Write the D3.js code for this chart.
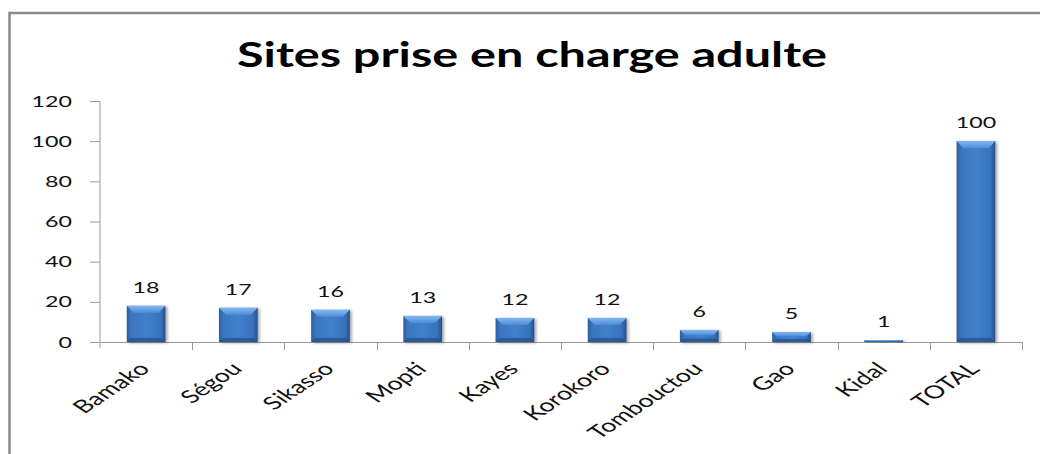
<!DOCTYPE html>
<html>
<head>
<meta charset="utf-8">
<script src="https://cdn.jsdelivr.net/npm/d3@7"></script>
<style>
  html, body { margin: 0; padding: 0; background: #fff; }
  svg { display: block; }
</style>
</head>
<body>
<svg id="chart" width="1040" height="454"></svg>
<script>
// Chart data
const title = "Sites prise en charge adulte";
const categories = ["Bamako", "Ségou", "Sikasso", "Mopti", "Kayes", "Korokoro", "Tombouctou", "Gao", "Kidal", "TOTAL"];
const values = [18, 17, 16, 13, 12, 12, 6, 5, 1, 100];
const yTicks = [0, 20, 40, 60, 80, 100, 120];

const svg = d3.select("#chart");
const W = 1040, H = 454;
const plot = { left: 100, right: 1022, top: 101, bottom: 342 };
const stretch = 1.5; // text is drawn wide, as in the exported chart

const x = d3.scaleBand()
  .domain(categories)
  .range([plot.left, plot.right])
  .paddingInner(0.58)
  .paddingOuter(0.29);

const y = d3.scaleLinear()
  .domain([0, 120])
  .range([plot.bottom, plot.top]);

// Gradients for the bevelled bars
const defs = svg.append("defs");
const body = defs.append("linearGradient").attr("id", "barBody")
  .attr("x1", "0").attr("x2", "1").attr("y1", "0").attr("y2", "0");
[["0%", "#2c5e9e"], ["12%", "#3a76c0"], ["50%", "#4280cb"], ["88%", "#3872bb"], ["100%", "#234f88"]]
  .forEach(([o, c]) => body.append("stop").attr("offset", o).attr("stop-color", c));
const topBevel = defs.append("linearGradient").attr("id", "barTop")
  .attr("x1", "0").attr("x2", "0").attr("y1", "0").attr("y2", "1");
[["0%", "#82b7f0"], ["100%", "#4f8cd8"]]
  .forEach(([o, c]) => topBevel.append("stop").attr("offset", o).attr("stop-color", c));
const shadow = defs.append("filter").attr("id", "barShadow")
  .attr("x", "-20%").attr("y", "-20%").attr("width", "150%").attr("height", "150%");
shadow.append("feGaussianBlur").attr("in", "SourceAlpha").attr("stdDeviation", 1.6).attr("result", "b");
shadow.append("feOffset").attr("in", "b").attr("dx", 2).attr("dy", 1).attr("result", "o");
shadow.append("feComponentTransfer").attr("in", "o").attr("result", "s")
  .append("feFuncA").attr("type", "linear").attr("slope", 0.35);
const merge = shadow.append("feMerge");
merge.append("feMergeNode").attr("in", "s");
merge.append("feMergeNode").attr("in", "SourceGraphic");

// Outer frame (top and left edges are visible)
svg.append("path")
  .attr("d", `M9.5,${H} V13 H${W}`)
  .attr("fill", "none")
  .attr("stroke", "#8a8a8a")
  .attr("stroke-width", 2.5);

// Title
svg.append("text")
  .attr("x", 237).attr("y", 67)
  .attr("textLength", 590)
  .attr("lengthAdjust", "spacingAndGlyphs")
  .style("font-family", "Lato, 'Open Sans', sans-serif")
  .style("font-weight", "bold")
  .style("font-size", "35px")
  .attr("fill", "#000")
  .text(title);

// Y axis
const yAxis = svg.append("g")
  .attr("transform", `translate(${plot.left},0)`)
  .call(d3.axisLeft(y).tickValues(yTicks).tickSize(10).tickFormat(""));
yAxis.select(".domain").attr("d", `M0,${plot.top}V${plot.bottom + 6}`);
yAxis.selectAll("path, line").attr("stroke", "#9a9a9a").attr("stroke-width", 1);

svg.append("g").selectAll("text")
  .data(yTicks)
  .join("text")
  .attr("transform", d => `translate(72,${y(d) + 5.5}) scale(${stretch},1)`)
  .attr("text-anchor", "end")
  .style("font-family", "Lato, sans-serif")
  .style("font-size", "15.5px")
  .attr("fill", "#111")
  .text(d => d);

// X axis with tick marks on category boundaries
const step = x.step();
const bounds = d3.range(categories.length + 1).map(i => plot.left + i * step);
const xAxis = svg.append("g");
xAxis.append("line")
  .attr("x1", plot.left).attr("x2", plot.right)
  .attr("y1", plot.bottom + 0.5).attr("y2", plot.bottom + 0.5)
  .attr("stroke", "#9a9a9a");
xAxis.selectAll("line.tick")
  .data(bounds.slice(1))
  .join("line")
  .attr("class", "tick")
  .attr("x1", d => Math.round(d) + 0.5).attr("x2", d => Math.round(d) + 0.5)
  .attr("y1", plot.bottom).attr("y2", plot.bottom + 8)
  .attr("stroke", "#9a9a9a");

// Bars
const bars = svg.append("g").selectAll("g")
  .data(categories.map((c, i) => ({ c, v: values[i] })))
  .join("g")
  .attr("filter", "url(#barShadow)");

bars.append("rect")
  .attr("x", d => x(d.c))
  .attr("y", d => y(d.v))
  .attr("width", x.bandwidth())
  .attr("height", d => y(0) - y(d.v))
  .attr("fill", "url(#barBody)");

// Top bevel
bars.append("path")
  .attr("d", d => {
    const x0 = x(d.c), x1 = x0 + x.bandwidth();
    const t = y(d.v), h = y(0) - y(d.v);
    const b = Math.min(7, h * 0.45);
    return `M${x0},${t}H${x1}L${x1 - b},${t + b}H${x0 + b}Z`;
  })
  .attr("fill", "url(#barTop)");

// Bottom bevel
bars.append("path")
  .attr("d", d => {
    const x0 = x(d.c), x1 = x0 + x.bandwidth();
    const bt = y(0), h = y(0) - y(d.v);
    const b = Math.min(4, h * 0.3);
    return `M${x0},${bt}H${x1}L${x1 - b},${bt - b}H${x0 + b}Z`;
  })
  .attr("fill", "#244f86")
  .attr("opacity", 0.7);

// Value labels
svg.append("g").selectAll("text")
  .data(categories.map((c, i) => ({ c, v: values[i] })))
  .join("text")
  .attr("transform", d => `translate(${x(d.c) + x.bandwidth() / 2},${y(d.v) - 13}) scale(${stretch},1)`)
  .attr("text-anchor", "middle")
  .style("font-family", "Lato, sans-serif")
  .style("font-size", "15.5px")
  .attr("fill", "#111")
  .text(d => d.v);

// Category labels, rotated
svg.append("g").selectAll("text")
  .data(categories)
  .join("text")
  .attr("transform", d => `translate(${x(d) + x.bandwidth() / 2 + 5},${plot.bottom + 28}) scale(${stretch},1) rotate(-45)`)
  .attr("text-anchor", "end")
  .style("font-family", "Lato, sans-serif")
  .style("font-size", "18px")
  .attr("fill", "#111")
  .text(d => d);
</script>
</body>
</html>
